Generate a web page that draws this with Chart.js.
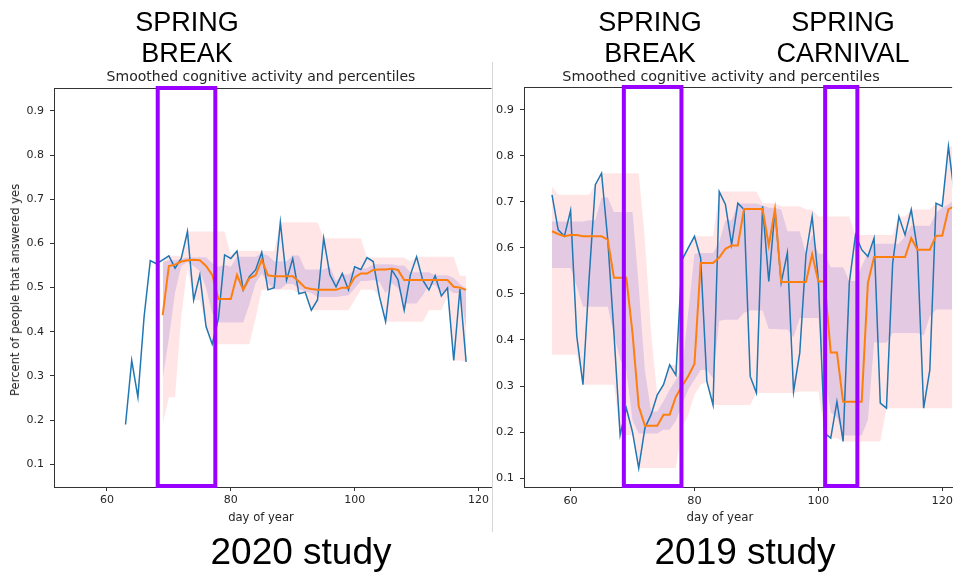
<!DOCTYPE html>
<html>
<head>
<meta charset="utf-8">
<script src="https://cdn.jsdelivr.net/npm/chart.js@4.4.0/dist/chart.umd.min.js"></script>
<style>
  body { margin: 0; background: #fff; }
  #page { position: relative; width: 956px; height: 573px; overflow: hidden; background: #fff; }
  canvas { position: absolute; top: 0; }
  .big { position: absolute; font-family: "Liberation Sans", Arial, sans-serif; color: #000; text-align: center; white-space: nowrap; transform: translateX(-50%); }
  .lbl { position: absolute; font-family: "DejaVu Sans", sans-serif; color: #262626; white-space: nowrap; transform: translate(-50%, -50%); }
</style>
</head>
<body>
<div id="page">
  <canvas id="c2020" width="492" height="573" style="left:0"></canvas>
  <canvas id="c2019" width="463" height="573" style="left:493px"></canvas>
  <div style="position:absolute;left:492px;top:62px;width:1px;height:470px;background:#d6d6d6"></div>

  <div class="big" style="left:187px;top:7px;font-size:27px;line-height:31px">SPRING<br>BREAK</div>
  <div class="big" style="left:650px;top:7px;font-size:27px;line-height:31px">SPRING<br>BREAK</div>
  <div class="big" style="left:843px;top:7px;font-size:27px;line-height:31px">SPRING<br>CARNIVAL</div>

  <div class="lbl" style="left:261px;top:76px;font-size:14px">Smoothed cognitive activity and percentiles</div>
  <div class="lbl" style="left:721px;top:76px;font-size:14.4px">Smoothed cognitive activity and percentiles</div>
  <div class="lbl" style="left:15px;top:290px;font-size:11.6px;transform:translate(-50%,-50%) rotate(-90deg)">Percent of people that answered yes</div>
  <div class="lbl" style="left:261px;top:517px;font-size:11.6px">day of year</div>
  <div class="lbl" style="left:720px;top:517px;font-size:11.8px">day of year</div>

  <div class="big" style="left:301px;top:531px;font-size:37px;line-height:42px">2020 study</div>
  <div class="big" style="left:745px;top:531px;font-size:37px;line-height:42px">2019 study</div>
</div>

<script>
// tick labels
const xTicks = [60, 80, 100, 120];
const yTicks = [0.1, 0.2, 0.3, 0.4, 0.5, 0.6, 0.7, 0.8, 0.9];

// purple boxes (day ranges)
const boxes2020 = [[68.2, 77.5]];
const boxes2019 = [[68.6, 77.9], [101.1, 106.3]];

// ---------- 2020 study ----------
const rawStart2020 = 63;     // first day of the daily series
const smoothStart2020 = 69;  // first day of the smoothed series and bands
const raw2020 = [0.19, 0.335, 0.252, 0.434, 0.561, 0.554, 0.563, 0.572, 0.544, 0.566,
  0.627, 0.472, 0.529, 0.412, 0.372, 0.43, 0.574, 0.566, 0.583, 0.495,
  0.525, 0.54, 0.58, 0.495, 0.50, 0.648, 0.517, 0.566, 0.486, 0.49,
  0.449, 0.472, 0.612, 0.529, 0.502, 0.532, 0.495, 0.547, 0.541, 0.568,
  0.559, 0.48, 0.423, 0.54, 0.518, 0.449, 0.529, 0.57, 0.517, 0.495,
  0.527, 0.481, 0.499, 0.335, 0.497, 0.332];
const smooth2020 = [0.438, 0.549, 0.552, 0.559, 0.562, 0.563, 0.562, 0.549, 0.529, 0.474,
  0.474, 0.474, 0.529, 0.495, 0.521, 0.528, 0.563, 0.528, 0.526, 0.526,
  0.526, 0.526, 0.514, 0.50, 0.497, 0.495, 0.495, 0.495, 0.495, 0.50,
  0.50, 0.523, 0.532, 0.532, 0.540, 0.541, 0.541, 0.543, 0.540, 0.517,
  0.517, 0.517, 0.517, 0.517, 0.517, 0.517, 0.517, 0.502, 0.50, 0.495];
const lo2020 = [0.19, 0.252, 0.252, 0.434, 0.544, 0.472, 0.472, 0.412, 0.372, 0.372,
  0.372, 0.372, 0.372, 0.372, 0.372, 0.43, 0.495, 0.495, 0.495, 0.495,
  0.495, 0.495, 0.486, 0.486, 0.449, 0.449, 0.449, 0.449, 0.449, 0.449,
  0.449, 0.472, 0.495, 0.495, 0.495, 0.48, 0.423, 0.423, 0.423, 0.423,
  0.423, 0.423, 0.423, 0.449, 0.449, 0.449, 0.481, 0.335, 0.335, 0.332];
const hi2020 = [0.563, 0.572, 0.572, 0.572, 0.627, 0.627, 0.627, 0.627, 0.627, 0.627,
  0.627, 0.574, 0.583, 0.583, 0.583, 0.583, 0.583, 0.583, 0.583, 0.648,
  0.648, 0.648, 0.648, 0.648, 0.648, 0.648, 0.612, 0.612, 0.612, 0.612,
  0.612, 0.612, 0.612, 0.568, 0.568, 0.568, 0.568, 0.568, 0.568, 0.568,
  0.559, 0.57, 0.57, 0.57, 0.57, 0.57, 0.57, 0.57, 0.527, 0.527];
const q1_2020 = [0.294, 0.385, 0.489, 0.549, 0.558, 0.549, 0.537, 0.50, 0.442, 0.421,
  0.421, 0.421, 0.421, 0.421, 0.462, 0.51, 0.532, 0.51, 0.497, 0.497,
  0.508, 0.508, 0.497, 0.492, 0.488, 0.479, 0.479, 0.479, 0.479, 0.481,
  0.483, 0.498, 0.515, 0.515, 0.517, 0.513, 0.487, 0.51, 0.499, 0.464,
  0.464, 0.464, 0.483, 0.506, 0.506, 0.488, 0.497, 0.488, 0.488, 0.408];
const q3_2020 = [0.558, 0.562, 0.562, 0.565, 0.569, 0.569, 0.569, 0.569, 0.555, 0.547,
  0.551, 0.547, 0.570, 0.570, 0.570, 0.570, 0.577, 0.573, 0.56, 0.56,
  0.56, 0.573, 0.573, 0.541, 0.541, 0.541, 0.541, 0.547, 0.515, 0.530,
  0.530, 0.54, 0.544, 0.544, 0.553, 0.553, 0.553, 0.553, 0.55, 0.55,
  0.535, 0.535, 0.535, 0.535, 0.528, 0.528, 0.528, 0.522, 0.508, 0.498];

// ---------- 2019 study ----------
const start2019 = 57;
const raw2019 = [0.715, 0.639, 0.625, 0.681, 0.408, 0.303, 0.535, 0.737, 0.762, 0.618,
  0.415, 0.194, 0.252, 0.20, 0.122, 0.209, 0.238, 0.281, 0.303, 0.346,
  0.324, 0.574, 0.60, 0.625, 0.578, 0.31, 0.259, 0.722, 0.694, 0.607,
  0.697, 0.683, 0.321, 0.285, 0.69, 0.527, 0.683, 0.524, 0.589, 0.288,
  0.372, 0.585, 0.668, 0.531, 0.198, 0.187, 0.266, 0.18, 0.524, 0.628,
  0.596, 0.581, 0.621, 0.263, 0.252, 0.567, 0.668, 0.628, 0.683, 0.596,
  0.252, 0.335, 0.697, 0.69, 0.82, 0.712];
const smooth2019 = [0.636, 0.63, 0.625, 0.628, 0.628, 0.625, 0.625, 0.625, 0.625, 0.618,
  0.535, 0.535, 0.535, 0.415, 0.256, 0.214, 0.214, 0.214, 0.238, 0.238,
  0.277, 0.30, 0.322, 0.348, 0.567, 0.567, 0.567, 0.579, 0.598, 0.605,
  0.605, 0.684, 0.684, 0.684, 0.684, 0.605, 0.684, 0.526, 0.526, 0.526,
  0.526, 0.526, 0.586, 0.527, 0.527, 0.373, 0.373, 0.266, 0.266, 0.266,
  0.266, 0.524, 0.58, 0.58, 0.58, 0.58, 0.58, 0.58, 0.621, 0.596,
  0.596, 0.596, 0.626, 0.626, 0.684, 0.69];
const lo2019 = [0.368, 0.368, 0.368, 0.368, 0.368, 0.303, 0.303, 0.303, 0.303, 0.303,
  0.303, 0.194, 0.194, 0.194, 0.122, 0.122, 0.122, 0.122, 0.122, 0.122,
  0.122, 0.209, 0.238, 0.281, 0.303, 0.31, 0.259, 0.259, 0.259, 0.259,
  0.259, 0.259, 0.259, 0.285, 0.285, 0.285, 0.285, 0.285, 0.285, 0.285,
  0.288, 0.288, 0.288, 0.288, 0.198, 0.187, 0.187, 0.18, 0.18, 0.18,
  0.18, 0.18, 0.18, 0.18, 0.252, 0.252, 0.252, 0.252, 0.252, 0.252,
  0.252, 0.252, 0.252, 0.252, 0.252, 0.252];
const hi2019 = [0.733, 0.715, 0.715, 0.715, 0.715, 0.715, 0.715, 0.737, 0.762, 0.762,
  0.762, 0.762, 0.762, 0.762, 0.762, 0.618, 0.415, 0.281, 0.303, 0.346,
  0.346, 0.574, 0.60, 0.625, 0.625, 0.625, 0.625, 0.722, 0.722, 0.722,
  0.722, 0.722, 0.722, 0.722, 0.697, 0.697, 0.697, 0.69, 0.69, 0.69,
  0.69, 0.683, 0.683, 0.668, 0.668, 0.668, 0.668, 0.668, 0.668, 0.628,
  0.628, 0.628, 0.628, 0.628, 0.628, 0.628, 0.668, 0.668, 0.683, 0.683,
  0.683, 0.683, 0.697, 0.697, 0.82, 0.82];
const q1_2019 = [0.556, 0.556, 0.556, 0.556, 0.516, 0.472, 0.472, 0.472, 0.472, 0.472,
  0.412, 0.359, 0.334, 0.226, 0.197, 0.197, 0.197, 0.197, 0.205, 0.205,
  0.224, 0.26, 0.292, 0.314, 0.335, 0.335, 0.317, 0.442, 0.444, 0.444,
  0.444, 0.459, 0.464, 0.464, 0.464, 0.424, 0.424, 0.423, 0.423, 0.406,
  0.448, 0.448, 0.448, 0.448, 0.33, 0.243, 0.232, 0.193, 0.193, 0.193,
  0.193, 0.227, 0.395, 0.394, 0.394, 0.415, 0.415, 0.415, 0.415, 0.415,
  0.41, 0.451, 0.466, 0.466, 0.466, 0.466];
const q3_2019 = [0.657, 0.657, 0.657, 0.657, 0.657, 0.657, 0.66, 0.66, 0.709, 0.709,
  0.678, 0.678, 0.678, 0.678, 0.517, 0.334, 0.245, 0.245, 0.267, 0.292,
  0.314, 0.335, 0.46, 0.587, 0.589, 0.589, 0.589, 0.612, 0.66, 0.66,
  0.696, 0.696, 0.696, 0.696, 0.692, 0.687, 0.687, 0.683, 0.636, 0.636,
  0.636, 0.587, 0.629, 0.587, 0.587, 0.558, 0.558, 0.558, 0.528, 0.528,
  0.56, 0.589, 0.609, 0.609, 0.609, 0.609, 0.609, 0.625, 0.648, 0.648,
  0.648, 0.648, 0.676, 0.687, 0.694, 0.705];

const pink = 'rgba(255, 0, 0, 0.1)';
const lavender = 'rgba(80, 50, 200, 0.16)';
const spine = '#333';

function pts(start, vals) {
  return vals.map((v, i) => ({ x: start + i, y: v }));
}

// top spine + purple boxes
const frame = {
  id: 'frame',
  afterDatasetsDraw(chart, args, opts) {
    const { ctx, chartArea: a } = chart;
    const x = chart.scales.x;
    ctx.save();
    ctx.strokeStyle = spine;
    ctx.lineWidth = 1;
    ctx.beginPath();
    ctx.moveTo(a.left, a.top + 0.5);
    ctx.lineTo(a.right, a.top + 0.5);
    ctx.stroke();
    ctx.strokeStyle = '#9900ff';
    ctx.lineWidth = 4;
    opts.boxes.forEach(b => {
      const x0 = x.getPixelForValue(b[0]);
      const x1 = x.getPixelForValue(b[1]);
      ctx.strokeRect(x0, a.top, x1 - x0, a.bottom - a.top - 1);
    });
    ctx.restore();
  }
};

function makeChart(id, o) {
  const tickFont = { family: 'DejaVu Sans', size: o.fontSize };
  return new Chart(document.getElementById(id), {
    type: 'line',
    data: {
      datasets: [
        { data: pts(o.smoothStart, o.smooth), borderColor: '#ff7f0e', borderWidth: 2 },
        { data: pts(o.rawStart, o.raw), borderColor: '#1f77b4', borderWidth: 1.5 },
        { data: pts(o.smoothStart, o.q3), borderColor: 'transparent', borderWidth: 0, fill: '+1', backgroundColor: lavender },
        { data: pts(o.smoothStart, o.q1), borderColor: 'transparent', borderWidth: 0 },
        { data: pts(o.smoothStart, o.hi), borderColor: 'transparent', borderWidth: 0, fill: '+1', backgroundColor: pink },
        { data: pts(o.smoothStart, o.lo), borderColor: 'transparent', borderWidth: 0 }
      ]
    },
    options: {
      responsive: false,
      animation: false,
      elements: { point: { radius: 0 }, line: { tension: 0 } },
      layout: { padding: { top: o.top, left: 0, right: 0, bottom: 0 } },
      plugins: {
        legend: { display: false },
        tooltip: { enabled: false },
        frame: { boxes: o.boxes }
      },
      scales: {
        x: {
          type: 'linear',
          min: o.xMin, max: o.xMax,
          afterBuildTicks: s => { s.ticks = xTicks.map(v => ({ value: v })); },
          afterFit: s => { s.height = 573 - o.bottom; },
          grid: { drawOnChartArea: false, tickLength: 4, color: spine },
          border: { color: spine, width: 1 },
          ticks: { font: tickFont, color: '#262626', padding: 3, maxRotation: 0 }
        },
        y: {
          min: o.yMin, max: o.yMax,
          afterBuildTicks: s => { s.ticks = yTicks.map(v => ({ value: v })); },
          afterFit: s => { s.width = o.yWidth; },
          grid: { drawOnChartArea: false, tickLength: 4, color: spine },
          border: { color: spine, width: 1 },
          ticks: { font: tickFont, color: '#262626', padding: 6, callback: v => v.toFixed(1) }
        }
      }
    },
    plugins: [frame]
  });
}

makeChart('c2020', {
  rawStart: rawStart2020, smoothStart: smoothStart2020,
  raw: raw2020, smooth: smooth2020, lo: lo2020, hi: hi2020, q1: q1_2020, q3: q3_2020,
  boxes: boxes2020,
  xMin: 51.45, xMax: 122.1, yMin: 0.0486, yMax: 0.952,
  top: 88, bottom: 487, yWidth: 54, fontSize: 11
});

makeChart('c2019', {
  rawStart: start2019, smoothStart: start2019,
  raw: raw2019, smooth: smooth2019, lo: lo2019, hi: hi2019, q1: q1_2019, q3: q3_2019,
  boxes: boxes2019,
  xMin: 52.48, xMax: 121.6, yMin: 0.081, yMax: 0.949,
  top: 87, bottom: 487, yWidth: 31, fontSize: 11.3
});
</script>
</body>
</html>
